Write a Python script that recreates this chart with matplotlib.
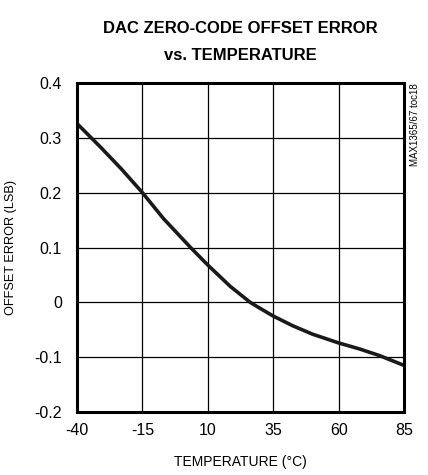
import matplotlib
matplotlib.use("Agg")
import matplotlib.pyplot as plt

# Data
temperature = [-40, -31, -23, -15, -7, 3.4, 10, 18.6, 26.2, 30, 35, 42.6, 50, 60, 68, 75.6, 85]
offset_error = [0.326, 0.283, 0.243, 0.200, 0.153, 0.100, 0.068, 0.029, 0.0, -0.011, -0.025,
                -0.043, -0.058, -0.074, -0.085, -0.097, -0.115]

x_ticks = [-40, -15, 10, 35, 60, 85]
x_tick_labels = ["-40", "-15", "10", "35", "60", "85"]
y_ticks = [-0.2, -0.1, 0, 0.1, 0.2, 0.3, 0.4]
y_tick_labels = ["-0.2", "-0.1", "0", "0.1", "0.2", "0.3", "0.4"]

plt.rcParams["font.family"] = ["Liberation Sans Narrow", "Liberation Sans", "DejaVu Sans"]

fig = plt.figure(figsize=(4.28, 4.75), dpi=100)
ax = fig.add_axes([0.180, 0.1326, 0.764, 0.6926])

ax.plot(temperature, offset_error, color="#1a1a1a", linewidth=2.6, solid_capstyle="butt")

ax.set_xlim(-40, 85)
ax.set_ylim(-0.2, 0.4)
ax.set_xticks(x_ticks)
ax.set_xticklabels(x_tick_labels)
ax.set_yticks(y_ticks)
ax.set_yticklabels(y_tick_labels)
ax.tick_params(length=0, labelsize=11.5)
ax.tick_params(axis="x", pad=8)
ax.tick_params(axis="y", pad=11)
ax.grid(True, color="black", linewidth=0.9)
for s in ax.spines.values():
    s.set_linewidth(2.2)

ax.set_xlabel("TEMPERATURE (°C)", fontsize=10, labelpad=12)
ax.set_ylabel("OFFSET ERROR (LSB)", fontsize=9.2, labelpad=12)

fig.text(0.562, 0.940, "DAC ZERO-CODE OFFSET ERROR", ha="center", va="center",
         fontsize=12, fontweight="bold")
fig.text(0.562, 0.884, "vs. TEMPERATURE", ha="center", va="center",
         fontsize=12, fontweight="bold")
fig.text(0.969, 0.825, "MAX1365/67 toc18", rotation=90, ha="center", va="top", fontsize=7)

fig.savefig("out.png", dpi=100)
